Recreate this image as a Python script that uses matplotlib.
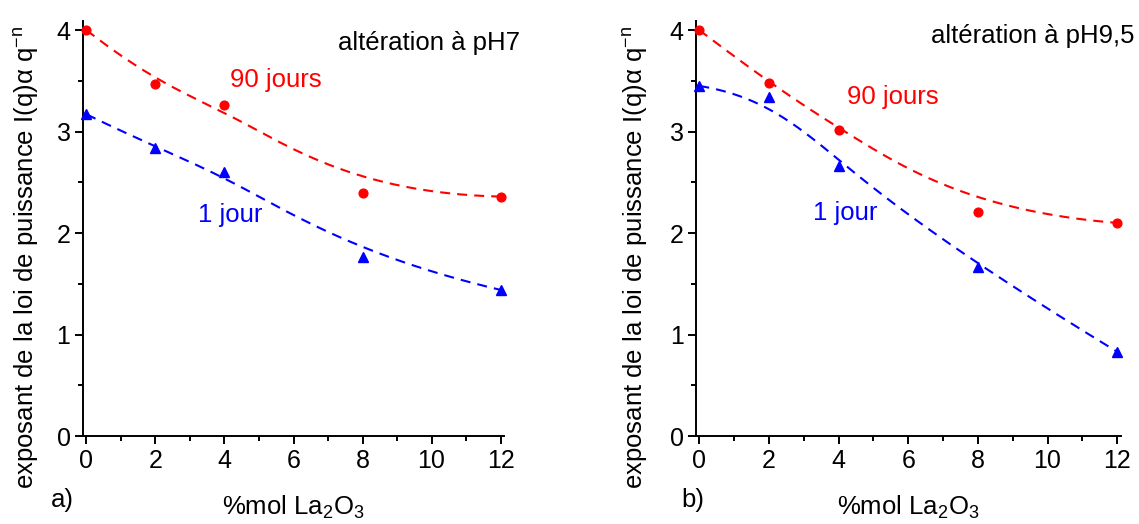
import numpy as np
import matplotlib
matplotlib.use("Agg")
import matplotlib.pyplot as plt
from matplotlib.ticker import MultipleLocator

plt.rcParams['font.family'] = ['Liberation Sans', 'DejaVu Sans']
plt.rcParams['mathtext.fontset'] = 'custom'
plt.rcParams['mathtext.rm'] = 'Liberation Sans'
plt.rcParams['mathtext.it'] = 'Liberation Sans'
plt.rcParams['mathtext.default'] = 'regular'

x_la2o3 = [0, 2, 4, 8, 12]
ph7_90j = [4.00, 3.47, 3.26, 2.39, 2.36]
ph7_1j = [3.17, 2.84, 2.60, 1.76, 1.44]
ph95_90j = [4.00, 3.48, 3.02, 2.21, 2.10]
ph95_1j = [3.45, 3.34, 2.66, 1.67, 0.83]

titles = ['altération à pH7', 'altération à pH9,5']
panel_labels = ['a)', 'b)']
ylabel = 'exposant de la loi de puissance I(q)α q$^{-n}$'
xlabel = '%mol La$_2$O$_3$'

RED = '#ff0000'
BLUE = '#0000ff'
FS = 18.5


def bspline_curve(px, py, deg=3, n=300):
    """Clamped B-spline using the data points as control points."""
    P = np.column_stack([px, py]).astype(float)
    m = len(P)
    k = min(deg, m - 1)
    inner = np.linspace(0, 1, m - k + 1)[1:-1]
    knots = np.concatenate([np.zeros(k + 1), inner, np.ones(k + 1)])
    ts = np.linspace(0, 1, n)
    out = []
    for t in ts:
        # find span
        if t >= 1.0:
            s = m - 1
        else:
            s = np.searchsorted(knots, t, side='right') - 1
        d = [P[j + s - k].copy() for j in range(k + 1)]
        for r in range(1, k + 1):
            for j in range(k, r - 1, -1):
                i = j + s - k
                denom = knots[i + k + 1 - r] - knots[i]
                a = 0.0 if denom == 0 else (t - knots[i]) / denom
                d[j] = (1 - a) * d[j - 1] + a * d[j]
        out.append(d[k])
    out = np.array(out)
    return out[:, 0], out[:, 1]


fig = plt.figure(figsize=(11.39, 5.24), dpi=100)
ax1 = fig.add_axes([83/1139, 88/524, 421/1139, 415/524])
ax2 = fig.add_axes([696.3/1139, 88/524, 424.7/1139, 415/524])

panels = [
    (ax1, ph7_90j, ph7_1j, (-0.1, 12.1), (12.56, 3.87), (4.16, 3.51), (3.23, 2.18), 62),
    (ax2, ph95_90j, ph95_1j, (-0.086, 12.11), (12.5, 3.94), (4.24, 3.34), (3.26, 2.20), 693),
]

for i, (ax, red_vals, blue_vals, xl, tpos, rpos, bpos, plab_x) in enumerate(panels):
    xs = np.array(x_la2o3, dtype=float)
    for vals, col, mk, ms in [(red_vals, RED, 'o', 6.3), (blue_vals, BLUE, '^', 7.3)]:
        cx, cy = bspline_curve(xs, vals)
        ax.plot(cx, cy, color=col, lw=1.5, ls=(0, (4.8, 3.4)), zorder=2)
        ax.plot(xs, vals, ls='none', marker=mk, color=col, ms=ms, mec=col, zorder=3, clip_on=False)
    ax.set_xlim(*xl)
    ax.set_ylim(0, 4.09)
    ax.spines['top'].set_visible(False)
    ax.spines['right'].set_visible(False)
    for s in ['left', 'bottom']:
        ax.spines[s].set_linewidth(1.4)
    ax.xaxis.set_major_locator(MultipleLocator(2))
    ax.xaxis.set_minor_locator(MultipleLocator(1))
    ax.yaxis.set_major_locator(MultipleLocator(1))
    ax.yaxis.set_minor_locator(MultipleLocator(0.5))
    ax.tick_params(which='major', direction='out', length=6, width=1.4, labelsize=18, pad=3)
    ax.tick_params(which='minor', direction='out', length=3.5, width=1.4)
    ax.text(tpos[0], tpos[1], titles[i], ha='right', va='center', fontsize=FS)
    ax.text(rpos[0], rpos[1], '90 jours', ha='left', va='center', fontsize=FS, color=RED)
    ax.text(bpos[0], bpos[1], '1 jour', ha='left', va='center', fontsize=FS, color=BLUE)
    ax.set_xlabel(xlabel, fontsize=FS)
    ax.xaxis.set_label_coords(0.5, -0.14)
    ax.set_ylabel(ylabel, fontsize=FS)
    fig.text(plab_x/1139, 1 - 500/524, panel_labels[i], fontsize=FS, ha='center', va='center')

ax1.yaxis.set_label_coords(-0.10, 0.43)
ax2.yaxis.set_label_coords(-0.108, 0.43)

fig.savefig('out.png', dpi=100)
